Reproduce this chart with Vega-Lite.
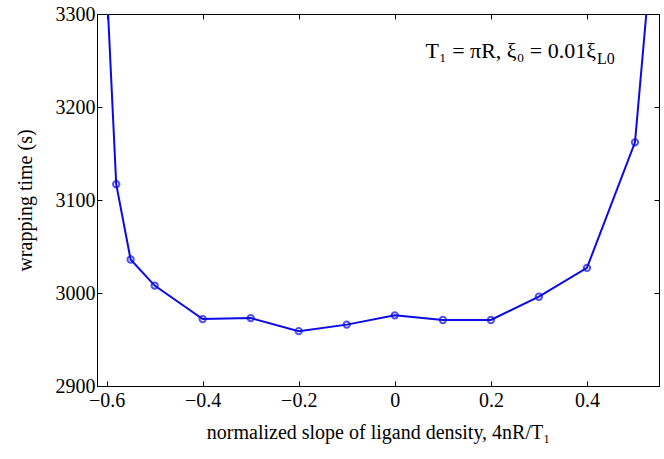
{
  "$schema": "https://vega.github.io/schema/vega-lite/v6.json",
  "width": 562,
  "height": 372,
  "autosize": {"type": "none"},
  "padding": {"left": 97, "top": 14, "right": 5, "bottom": 73},
  "config": {
    "font": "Liberation Serif",
    "view": {"stroke": "black", "strokeWidth": 1},
    "axis": {
      "domainColor": "black",
      "tickColor": "black",
      "labelColor": "black",
      "titleColor": "black",
      "labelFont": "Liberation Serif",
      "titleFont": "Liberation Serif",
      "labelFontSize": 20,
      "titleFontSize": 20,
      "titleFontWeight": "normal",
      "grid": false,
      "tickSize": -5,
      "tickWidth": 1
    }
  },
  "data": {
    "values": [
      {"x": -0.6, "y": 3334, "m": 0},
      {"x": -0.58, "y": 3117, "m": 1},
      {"x": -0.55, "y": 3036, "m": 1},
      {"x": -0.5, "y": 3008, "m": 1},
      {"x": -0.4, "y": 2972, "m": 1},
      {"x": -0.3, "y": 2973, "m": 1},
      {"x": -0.2, "y": 2959, "m": 1},
      {"x": -0.1, "y": 2966, "m": 1},
      {"x": 0.0, "y": 2976, "m": 1},
      {"x": 0.1, "y": 2971, "m": 1},
      {"x": 0.2, "y": 2971, "m": 1},
      {"x": 0.3, "y": 2996, "m": 1},
      {"x": 0.4, "y": 3027, "m": 1},
      {"x": 0.5, "y": 3162, "m": 1},
      {"x": 0.55, "y": 3455, "m": 0}
    ]
  },
  "resolve": {"axis": {"x": "independent", "y": "independent"}},
  "layer": [
    {
      "mark": {"type": "line", "color": "#0a0ae6", "strokeWidth": 2, "clip": true},
      "encoding": {
        "x": {
          "field": "x", "type": "quantitative",
          "scale": {"domain": [-0.62, 0.55], "nice": false, "zero": false},
          "axis": {
            "values": [-0.6, -0.4, -0.2, 0, 0.2, 0.4],
            "format": "~g",
            "labelPadding": 9,
            "title": "normalized slope of ligand density, 4nR/T₁",
            "titlePadding": 12
          }
        },
        "y": {
          "field": "y", "type": "quantitative",
          "scale": {"domain": [2900, 3300], "nice": false, "zero": false},
          "axis": {
            "values": [2900, 3000, 3100, 3200, 3300],
            "format": "d",
            "labelPadding": 7,
            "title": "wrapping time (s)",
            "titlePadding": 20
          }
        }
      }
    },
    {
      "transform": [{"filter": "datum.m == 1"}],
      "mark": {"type": "point", "shape": "circle", "filled": false, "color": "#0a0ae6", "strokeWidth": 2, "size": 40, "clip": true},
      "encoding": {
        "x": {"field": "x", "type": "quantitative", "axis": null},
        "y": {"field": "y", "type": "quantitative", "axis": null}
      }
    },
    {
      "mark": {"type": "line", "opacity": 0},
      "encoding": {
        "x": {"field": "x", "type": "quantitative",
          "axis": {"orient": "top", "values": [-0.6, -0.4, -0.2, 0, 0.2, 0.4], "labels": false, "title": null}},
        "y": {"field": "y", "type": "quantitative",
          "axis": {"orient": "right", "values": [2900, 3000, 3100, 3200, 3300], "labels": false, "title": null}}
      }
    },
    {
      "data": {"values": [{"x": 0.419, "y": 3253, "t": "T₁ = πR, ξ₀ = 0.01ξ"}]},
      "mark": {"type": "text", "align": "right", "baseline": "alphabetic", "fontSize": 22, "font": "Liberation Serif", "color": "black"},
      "encoding": {
        "x": {"field": "x", "type": "quantitative", "axis": null},
        "y": {"field": "y", "type": "quantitative", "axis": null},
        "text": {"field": "t"}
      }
    },
    {
      "data": {"values": [{"x": 0.419, "y": 3253, "t": "L0"}]},
      "mark": {"type": "text", "align": "left", "baseline": "alphabetic", "fontSize": 16, "dy": 6, "dx": 1, "font": "Liberation Serif", "color": "black"},
      "encoding": {
        "x": {"field": "x", "type": "quantitative", "axis": null},
        "y": {"field": "y", "type": "quantitative", "axis": null},
        "text": {"field": "t"}
      }
    }
  ]
}
